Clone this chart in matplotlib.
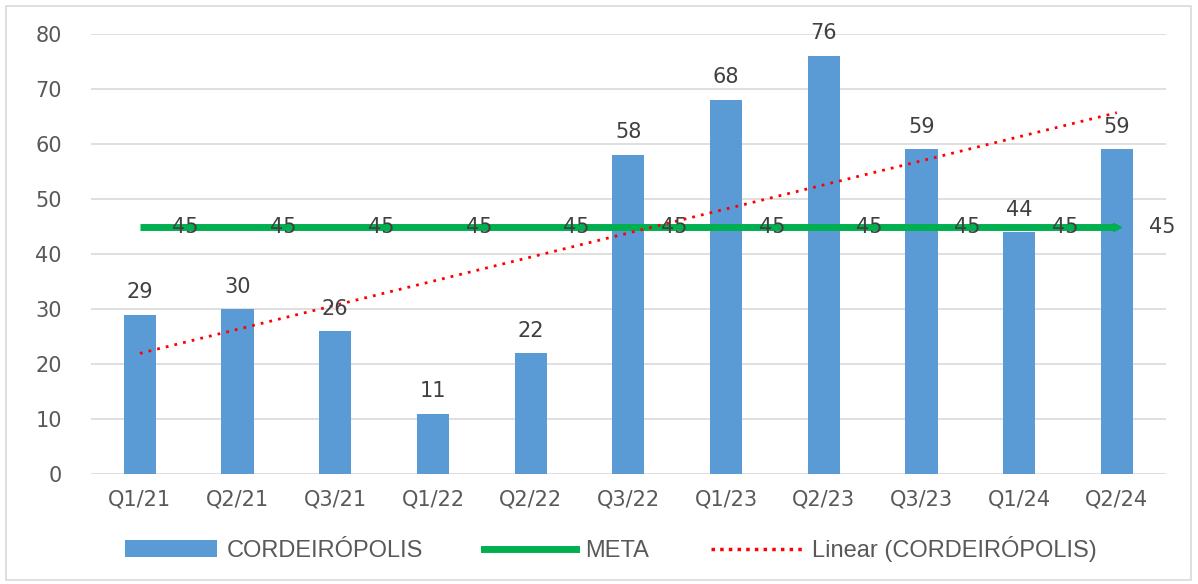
import numpy as np
import matplotlib.pyplot as plt
from matplotlib.patches import Rectangle
from matplotlib.lines import Line2D
from matplotlib.patches import Patch

categorias = ['Q1/21', 'Q2/21', 'Q3/21', 'Q1/22', 'Q2/22', 'Q3/22',
              'Q1/23', 'Q2/23', 'Q3/23', 'Q1/24', 'Q2/24']
cordeiropolis = [29, 30, 26, 11, 22, 58, 68, 76, 59, 44, 59]
meta = [45, 45, 45, 45, 45, 45, 45, 45, 45, 45, 45]

cor_barra = '#5B9BD5'
cor_meta = '#00B050'
cor_linear = '#FF0000'
cor_texto = '#404040'

fig = plt.figure(figsize=(11.98, 5.84), dpi=100)
ax = fig.add_axes([0.076, 0.188, 0.897, 0.754])

# moldura do gráfico
fig.patches.append(Rectangle((0.005, 0.007), 0.989, 0.983, transform=fig.transFigure,
                             fill=False, edgecolor='#d9d9d9', linewidth=1.2))

x = np.arange(len(categorias))

# barras
ax.bar(x, cordeiropolis, width=0.33, color=cor_barra, zorder=2)
for xi, v in zip(x, cordeiropolis):
    ax.annotate(str(v), xy=(xi, v), xytext=(0, 9), textcoords='offset points',
                ha='center', va='bottom', fontsize=15, color=cor_texto, zorder=5)

# meta
ax.plot(x, meta, color=cor_meta, linewidth=5, zorder=3, solid_capstyle='butt')
ax.plot([x[-1]], [meta[-1]], marker='>', color=cor_meta, markersize=6, zorder=3)
for xi, v in zip(x, meta):
    ax.annotate(str(v), xy=(xi, v), xytext=(33, 0), textcoords='offset points',
                ha='center', va='center', fontsize=15, color=cor_texto, zorder=5)

# tendência linear
coef = np.polyfit(x, cordeiropolis, 1)
ax.plot(x, np.polyval(coef, x), color=cor_linear, linestyle=(0, (1, 2.2)),
        linewidth=2, zorder=4)

ax.set_xlim(-0.5, len(categorias) - 0.5)
ax.set_ylim(0, 80)
ax.set_yticks(range(0, 81, 10))
ax.set_xticks(x)
ax.set_xticklabels(categorias)
ax.tick_params(axis='both', length=0, labelsize=15, colors='#595959')
ax.tick_params(axis='x', pad=11)
ax.tick_params(axis='y', pad=21)
ax.yaxis.grid(True, color='#d9d9d9', linewidth=1.2, zorder=0)
ax.set_axisbelow(True)
for s in ax.spines.values():
    s.set_visible(False)

handles = [
    Patch(facecolor=cor_barra, label='CORDEIRÓPOLIS'),
    Line2D([0], [0], color=cor_meta, linewidth=5, label='META'),
    Line2D([0], [0], color=cor_linear, linestyle=(0, (1, 1.5)), linewidth=2.5,
           label='Linear (CORDEIRÓPOLIS)'),
]
fig.legend(handles=handles, loc='center', bbox_to_anchor=(0.51, 0.06), ncol=3,
           frameon=False, handlelength=3.9, handleheight=0.75, handletextpad=0.4,
           columnspacing=2.6, labelcolor='#595959',
           prop={'family': 'Liberation Sans', 'size': 17})

fig.savefig('out.png', dpi=100)
